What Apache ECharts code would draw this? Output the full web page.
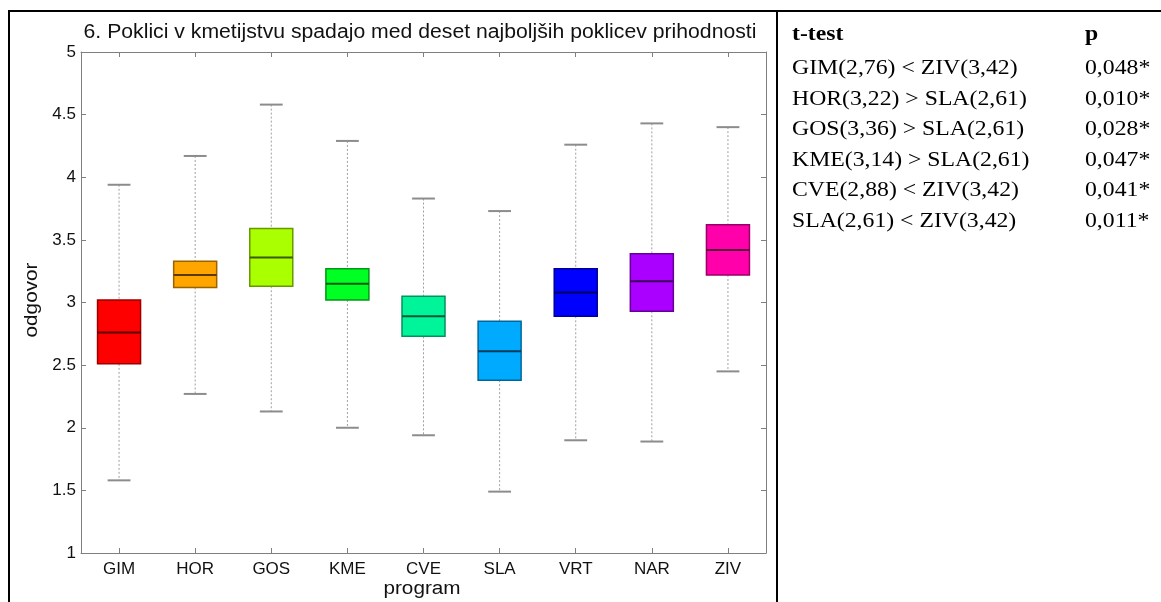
<!DOCTYPE html>
<html>
<head>
<meta charset="utf-8">
<script src="https://cdn.jsdelivr.net/npm/echarts@6/dist/echarts.min.js"></script>
<style>html,body{margin:0;padding:0;background:#fff;}#c{width:1161px;height:602px;}</style>
</head>
<body>
<div id="c"></div>
<script>
// ---- data ----
const titleText = '6. Poklici v kmetijstvu spadajo med deset najboljših poklicev prihodnosti';
const categories = ['GIM', 'HOR', 'GOS', 'KME', 'CVE', 'SLA', 'VRT', 'NAR', 'ZIV'];
const whiskerLow  = [1.58, 2.27, 2.13, 2.00, 1.94, 1.49, 1.90, 1.89, 2.45];
const q1          = [2.51, 3.12, 3.13, 3.02, 2.73, 2.38, 2.89, 2.93, 3.22];
const median      = [2.76, 3.22, 3.36, 3.15, 2.89, 2.61, 3.08, 3.17, 3.42];
const q3          = [3.02, 3.33, 3.59, 3.27, 3.05, 2.85, 3.27, 3.39, 3.62];
const whiskerHigh = [3.94, 4.17, 4.58, 4.29, 3.83, 3.73, 4.26, 4.43, 4.40];
const yTicks = { min: 1, max: 5, interval: 0.5 };
const xName = 'program';
const yName = 'odgovor';
const tableHeader = ['t-test', 'p'];
const tableTests = ['GIM(2,76) < ZIV(3,42)', 'HOR(3,22) > SLA(2,61)', 'GOS(3,36) > SLA(2,61)',
                    'KME(3,14) > SLA(2,61)', 'CVE(2,88) < ZIV(3,42)', 'SLA(2,61) < ZIV(3,42)'];
const tableP = ['0,048*', '0,010*', '0,028*', '0,047*', '0,041*', '0,011*'];

// ---- styles ----
const boxColors = ['#ff0000', '#ffa500', '#aaff00', '#00ff22', '#00f59a', '#00aaff', '#0000ff', '#aa00ff', '#ff00aa'];
function darken(hex, f) {
  const n = parseInt(hex.slice(1), 16);
  const r = Math.round(((n >> 16) & 255) * f), g = Math.round(((n >> 8) & 255) * f), b = Math.round((n & 255) * f);
  return 'rgb(' + r + ',' + g + ',' + b + ')';
}
const sansFont = '"Liberation Sans", Arial, Helvetica, sans-serif';
const serifFont = '"Liberation Serif", "Times New Roman", serif';
const axisGray = '#7f7f7f';

const seriesData = categories.map((c, i) => [i, whiskerLow[i], q1[i], median[i], q3[i], whiskerHigh[i]]);

function renderItem(params, api) {
  const idx = api.value(0);
  const band = api.size([1, 0])[0];
  const boxW = band * 0.565;
  const capW = band * 0.3;
  const pLow = api.coord([idx, api.value(1)]);
  const pQ1 = api.coord([idx, api.value(2)]);
  const pMed = api.coord([idx, api.value(3)]);
  const pQ3 = api.coord([idx, api.value(4)]);
  const pHigh = api.coord([idx, api.value(5)]);
  const cx = pMed[0];
  const col = boxColors[idx];
  const whiskStyle = { stroke: '#a0a0a0', lineWidth: 1, lineDash: [2, 2] };
  const capStyle = { stroke: '#8c8c8c', lineWidth: 2 };
  return {
    type: 'group',
    children: [
      { type: 'line', shape: { x1: cx, y1: pHigh[1], x2: cx, y2: pQ3[1] }, style: whiskStyle },
      { type: 'line', shape: { x1: cx, y1: pQ1[1], x2: cx, y2: pLow[1] }, style: whiskStyle },
      { type: 'line', shape: { x1: cx - capW / 2, y1: pHigh[1], x2: cx + capW / 2, y2: pHigh[1] }, style: capStyle },
      { type: 'line', shape: { x1: cx - capW / 2, y1: pLow[1], x2: cx + capW / 2, y2: pLow[1] }, style: capStyle },
      { type: 'rect', shape: { x: cx - boxW / 2, y: pQ3[1], width: boxW, height: pQ1[1] - pQ3[1] },
        style: { fill: col, stroke: darken(col, 0.6), lineWidth: 1.5 } },
      { type: 'line', shape: { x1: cx - boxW / 2, y1: pMed[1], x2: cx + boxW / 2, y2: pMed[1] },
        style: { stroke: darken(col, 0.35), lineWidth: 2 } }
    ]
  };
}

const gridL = 81, gridT = 52, gridW = 685, gridH = 501;

const graphics = [
  // frame lines
  { type: 'line', shape: { x1: 8, y1: 11, x2: 1161, y2: 11 }, style: { stroke: '#000', lineWidth: 2 } },
  { type: 'line', shape: { x1: 9, y1: 10, x2: 9, y2: 602 }, style: { stroke: '#000', lineWidth: 2 } },
  { type: 'line', shape: { x1: 777, y1: 10, x2: 777, y2: 602 }, style: { stroke: '#000', lineWidth: 2 } },
  // title
  { type: 'text', x: 420, y: 32, scaleX: 1.06, style: { text: titleText, font: '20px ' + sansFont, fill: '#111', align: 'center', verticalAlign: 'middle' } },
  // axis names
  { type: 'text', x: 32, y: 300, rotation: Math.PI / 2, scaleX: 1.15, style: { text: yName, font: '18px ' + sansFont, fill: '#111', align: 'center', verticalAlign: 'middle' } },
  { type: 'text', x: 422, y: 589, scaleX: 1.15, style: { text: xName, font: '18px ' + sansFont, fill: '#111', align: 'center', verticalAlign: 'middle' } },
  // table header
  { type: 'text', x: 792, y: 35, scaleX: 1.13, style: { text: tableHeader[0], font: 'bold 21px ' + serifFont, fill: '#000', align: 'left', verticalAlign: 'middle' } },
  { type: 'text', x: 1085, y: 35, scaleX: 1.13, style: { text: tableHeader[1], font: 'bold 21px ' + serifFont, fill: '#000', align: 'left', verticalAlign: 'middle' } }
];
tableTests.forEach((t, i) => {
  const y = 68.5 + i * 30.6;
  graphics.push({ type: 'text', x: 792, y: y, scaleX: 1.13, style: { text: t, font: '21px ' + serifFont, fill: '#000', align: 'left', verticalAlign: 'middle' } });
  graphics.push({ type: 'text', x: 1085, y: y, scaleX: 1.13, style: { text: tableP[i], font: '21px ' + serifFont, fill: '#000', align: 'left', verticalAlign: 'middle' } });
});

const chart = echarts.init(document.getElementById('c'), null, { renderer: 'canvas' });
chart.setOption({
  animation: false,
  backgroundColor: '#fff',
  grid: { left: gridL, top: gridT, width: gridW, height: gridH, containLabel: false },
  xAxis: [
    { type: 'category', data: categories, position: 'bottom',
      axisLine: { show: true, lineStyle: { color: axisGray, width: 1 } },
      axisTick: { show: true, inside: true, alignWithLabel: true, length: 5, lineStyle: { color: axisGray } },
      axisLabel: { show: true, margin: 8, color: '#111', fontSize: 17, fontFamily: sansFont },
      splitLine: { show: false } },
    { type: 'category', data: categories, position: 'top',
      axisLine: { show: true, lineStyle: { color: axisGray, width: 1 } },
      axisTick: { show: true, inside: true, alignWithLabel: true, length: 5, lineStyle: { color: axisGray } },
      axisLabel: { show: false }, splitLine: { show: false } }
  ],
  yAxis: [
    { type: 'value', min: yTicks.min, max: yTicks.max, interval: yTicks.interval, position: 'left',
      axisLine: { show: true, lineStyle: { color: axisGray, width: 1 } },
      axisTick: { show: true, inside: true, length: 5, lineStyle: { color: axisGray } },
      axisLabel: { show: true, margin: 5, color: '#111', fontSize: 17, fontFamily: sansFont },
      splitLine: { show: false } },
    { type: 'value', min: yTicks.min, max: yTicks.max, interval: yTicks.interval, position: 'right',
      axisLine: { show: true, lineStyle: { color: axisGray, width: 1 } },
      axisTick: { show: true, inside: true, length: 5, lineStyle: { color: axisGray } },
      axisLabel: { show: false }, splitLine: { show: false } }
  ],
  series: [{
    type: 'custom',
    xAxisIndex: 0, yAxisIndex: 0,
    renderItem: renderItem,
    encode: { x: 0, y: [1, 2, 3, 4, 5] },
    data: seriesData,
    clip: false
  }],
  graphic: graphics
});
</script>
</body>
</html>
